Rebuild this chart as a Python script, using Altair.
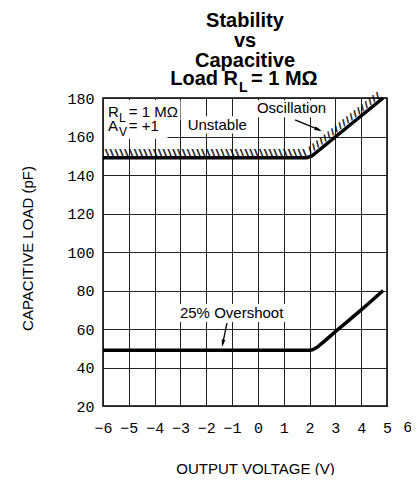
import altair as alt
import pandas as pd

# ---------------- data ----------------
# Oscillation boundary (upper thick curve)
osc_v = [-6.0, 1.9, 2.1, 4.85]
osc_c = [149, 149, 150, 180]
# 25% overshoot curve (lower thick curve)
ovs_v = [-6.0, 2.0, 2.15, 2.3, 2.5, 3.05, 4.0, 4.85]
ovs_c = [49, 49, 49.4, 50.6, 52.8, 59.2, 69.9, 80]

x_ticks = [-6, -5, -4, -3, -2, -1, 0, 1, 2, 3, 4, 5]
y_ticks = [20, 40, 60, 80, 100, 120, 140, 160, 180]
extra_x_label = [6]

title_lines = ["Stability", "vs", "Capacitive"]
x_title = "OUTPUT VOLTAGE (V)"
y_title = "CAPACITIVE LOAD (pF)"

# annotation texts (left aligned) and their anchor in data units
ann_text = ["R", "L", "= 1 MΩ", "A", "V", "= +1", "Unstable", "Oscillation", "25% Overshoot"]
ann_v = [-5.81, -5.38, -5.0, -5.81, -5.38, -5.0, -2.72, -0.04, -3.02]
ann_c = [170.1, 167.3, 170.1, 162.9, 160.1, 162.9, 163.3, 172.2, 65.7]
ann_fs = [15, 12, 15, 15, 12, 15, 15, 15, 15]

# white label backgrounds (data units)
box_v = [-5.95, -5.95, -2.82, -0.12, -3.1]
box_v2 = [-3.0, -3.5, -0.3, 2.85, 1.2]
box_c = [168.5, 158.8, 161.5, 170.0, 63.6]
box_c2 = [179.0, 168.5, 170.5, 178.8, 73.0]

# arrows: shaft start / end and head
arr_v = [1.44, -1.20]
arr_c = [168.6, 63.1]
arr_v2 = [2.40, -1.37]
arr_c2 = [163.3, 52.0]
head_v = [2.32, -1.356]
head_c = [163.7, 52.9]
head_ang = [112, 192]

# ---------------- chart ----------------
FONT = "Liberation Sans"
MONO = "Liberation Mono"

xs = alt.Scale(domain=[-6, 5], nice=False, zero=False)
ys = alt.Scale(domain=[20, 180], nice=False, zero=False)
xaxis = alt.Axis(values=x_ticks, title=x_title, labelPadding=14, titleX=152, titleY=62,
                 titleBaseline="middle", titleAlign="center", labelFlush=False)
yaxis = alt.Axis(values=y_ticks, title=y_title, labelPadding=9, titleX=-76, titleY=150,
                 titleAngle=270, titleBaseline="middle", titleAlign="center", labelFlush=False)


def X(f="v"):
    return alt.X(f"{f}:Q", scale=xs, axis=xaxis)


def Y(f="c"):
    return alt.Y(f"{f}:Q", scale=ys, axis=yaxis)


osc_df = pd.DataFrame({"v": osc_v, "c": osc_c})
ovs_df = pd.DataFrame({"v": ovs_v, "c": ovs_c})
ann_df = pd.DataFrame({"t": ann_text, "v": ann_v, "c": ann_c, "fs": ann_fs})
box_df = pd.DataFrame({"v": box_v, "v2": box_v2, "c": box_c, "c2": box_c2})
arr_df = pd.DataFrame({"v": arr_v, "v2": arr_v2, "c": arr_c, "c2": arr_c2})
head_df = pd.DataFrame({"v": head_v, "c": head_c, "a": head_ang})
extra_df = pd.DataFrame({"v": extra_x_label, "c": [20], "t": [str(e) for e in extra_x_label]})
hatch_flat = pd.DataFrame({"v": [-5.95], "c": [149], "t": ["\\" * 42]})
hatch_slope = pd.DataFrame({"v": [2.05], "c": [150.2], "t": ["/" * 19]})

boxes = alt.Chart(box_df).mark_rect(color="white").encode(
    x=X(), x2="v2:Q", y=Y(), y2="c2:Q")

osc_line = alt.Chart(osc_df).mark_line(color="black", strokeWidth=3.5).encode(x=X(), y=Y())
ovs_line = alt.Chart(ovs_df).mark_line(color="black", strokeWidth=3.5,
                                       interpolate="monotone").encode(x=X(), y=Y())


def hatch_layer(df, angle, dx):
    kw = dict(font="DejaVu Sans Mono", fontSize=8, fontWeight="bold", align="left",
              baseline="bottom", color="black", dx=dx)
    if angle:
        kw["angle"] = angle
    return alt.Chart(df).mark_text(**kw).encode(x=X(), y=Y(), text="t:N")


hatches = [hatch_layer(hatch_flat, 0, 0), hatch_layer(hatch_flat, 0, 0.7),
           hatch_layer(hatch_slope, 321, 0), hatch_layer(hatch_slope, 321, 0.7)]

ann = alt.Chart(ann_df).mark_text(font=FONT, align="left", baseline="alphabetic",
                                  color="black").encode(
    x=X(), y=Y(), text="t:N", size=alt.Size("fs:Q", scale=None, legend=None))

arrows = alt.Chart(arr_df).mark_rule(color="black", strokeWidth=1.3).encode(
    x=X(), x2="v2:Q", y=Y(), y2="c2:Q")
heads = alt.Chart(head_df).mark_point(
    shape="M0,-1L0.42,0.7L-0.42,0.7Z", filled=True, color="black", size=80,
    opacity=1, strokeWidth=0).encode(
    x=X(), y=Y(), angle=alt.Angle("a:Q", scale=None))

extra = alt.Chart(extra_df).mark_text(
    font=MONO, fontSize=15, baseline="top", align="center", dy=14, dx=-5,
    color="black").encode(x=X(), y=Y(), text="t:N")

# last title line with subscript
t1 = alt.Chart(pd.DataFrame({"t": ["Load R"]})).mark_text(
    font=FONT, fontSize=20, fontWeight="bold", align="right", baseline="alphabetic",
    color="black").encode(x=alt.value(135), y=alt.value(-13), text="t:N")
t2 = alt.Chart(pd.DataFrame({"t": ["L"]})).mark_text(
    font=FONT, fontSize=14, fontWeight="bold", align="left", baseline="alphabetic",
    color="black").encode(x=alt.value(136), y=alt.value(-6), text="t:N")
t3 = alt.Chart(pd.DataFrame({"t": ["= 1 MΩ"]})).mark_text(
    font=FONT, fontSize=20, fontWeight="bold", align="left", baseline="alphabetic",
    color="black").encode(x=alt.value(148), y=alt.value(-13), text="t:N")

chart = alt.layer(
    boxes, osc_line, ovs_line, *hatches, ann, arrows, heads, extra, t1, t2, t3
).properties(
    width=284, height=308,
    autosize=alt.AutoSizeParams(type="none"),
    padding={"left": 95, "top": 90, "right": 24, "bottom": 69},
    title=alt.TitleParams(text=title_lines, font=FONT, fontSize=20, fontWeight="bold",
                          lineHeight=20, anchor="middle", offset=-2, color="black"),
).configure_view(
    stroke="black", strokeWidth=1.5
).configure_axis(
    grid=True, gridColor="#222222", gridWidth=1, gridOpacity=1,
    domain=False, ticks=False,
    labelFont=MONO, labelFontSize=15, labelColor="black",
    titleFont=FONT, titleFontSize=15, titleFontWeight="normal", titleColor="black",
)

chart.save("out.html", embed_options={"renderer": "svg", "actions": False})
